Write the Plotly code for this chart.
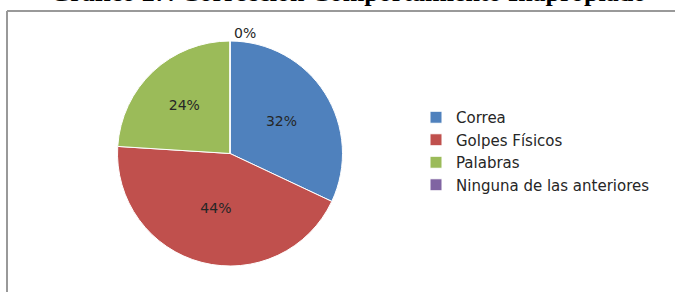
import plotly.graph_objects as go

categories = ["Correa", "Golpes Físicos", "Palabras", "Ninguna de las anteriores"]
counts = [8, 11, 6, 0]
colors = ["#4F81BD", "#C0504D", "#9BBB59", "#8064A2"]
title_text = "Gráfico 27. Corrección Comportamiento Inapropiado"

W, H = 675, 292
ml, mt = 7, 10
pw, ph = W - ml, H - mt

def fx(px):
    return (px - ml) / pw

def fy(py):
    return (H - py) / ph

fig = go.Figure(go.Pie(
    labels=categories,
    values=counts,
    sort=False,
    direction="clockwise",
    rotation=0,
    marker=dict(colors=colors, line=dict(color="white", width=1)),
    texttemplate="%{percent:.0%}",
    textposition=["inside", "inside", "inside", "outside"],
    textfont=dict(family="DejaVu Sans", size=14, color="#262626"),
    insidetextfont=dict(family="DejaVu Sans", size=14, color="#262626"),
    outsidetextfont=dict(family="DejaVu Sans", size=14, color="#262626"),
    insidetextorientation="horizontal",
    hoverinfo="label+percent",
    showlegend=True,
    domain=dict(x=[fx(112), fx(348)], y=[fy(266), fy(41)]),
))

border = dict(color="#999999", width=2)

fig.update_layout(
    width=W, height=H,
    margin=dict(l=ml, r=0, t=mt, b=0),
    paper_bgcolor="white",
    plot_bgcolor="white",
    annotations=[dict(
        text="<b>" + title_text + "</b>",
        xref="paper", yref="paper",
        x=fx(348), xanchor="center",
        y=1, yanchor="bottom", yshift=1,
        showarrow=False,
        font=dict(family="Liberation Serif", size=26, color="black"),
    )],
    legend=dict(
        x=fx(416), xanchor="left",
        y=fy(151), yanchor="middle",
        font=dict(family="DejaVu Sans", size=15, color="#262626"),
        traceorder="normal",
        itemclick=False,
    ),
    shapes=[
        dict(type="line", xref="paper", yref="paper",
             x0=0, x1=1, y0=fy(11), y1=fy(11), line=border, layer="above"),
        dict(type="line", xref="paper", yref="paper",
             x0=0, x1=0, y0=0, y1=fy(11), line=border, layer="above"),
    ],
)

fig.write_html(
    "out.html",
    config=dict(displayModeBar=False),
    post_script="document.body.style.margin='0';document.body.style.padding='0';",
)
